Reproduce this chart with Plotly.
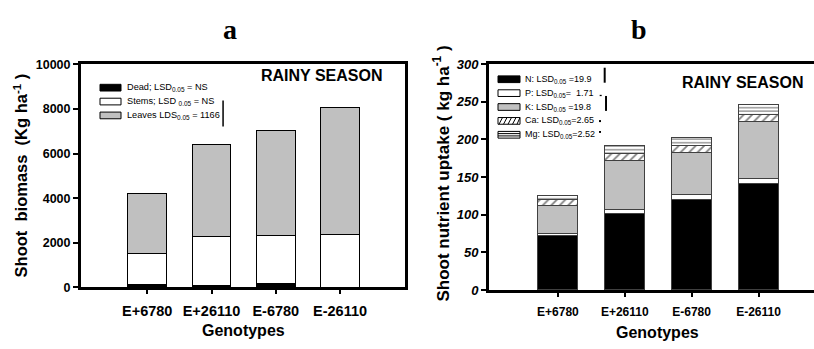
import plotly.graph_objects as go

W, H = 814, 349

genotypes = ["E+6780", "E+26110", "E-6780", "E-26110"]

# (a) shoot biomass components, kg/ha
dead = [120, 75, 160, 15]
stems = [1400, 2190, 2180, 2350]
leaves = [2700, 4155, 4680, 5685]
labels_a = ["Dead; LSD<sub>0.05</sub> = NS",
            "Stems; LSD <sub>0.05</sub> = NS",
            "Leaves LDS<sub>0.05</sub> = 1166"]
lsd_leaves = 1166
ticks_a = [0, 2000, 4000, 6000, 8000, 10000]

# (b) shoot nutrient uptake, kg/ha
n_up = [72, 101, 120, 141]
p_up = [3.5, 6, 6.5, 6.5]
k_up = [37, 65, 56.5, 76]
ca_up = [7, 8.5, 8.5, 10]
mg_up = [6, 11, 10.5, 12.5]
labels_b = ["N: LSD<sub>0.05</sub> =19.9",
            "P: LSD<sub>0.05</sub>=\u00a0 1.71",
            "K: LSD<sub>0.05</sub> =19.8",
            "Ca: LSD<sub>0.05</sub>=2.65",
            "Mg: LSD<sub>0.05</sub>=2.52"]
lsd_b = [19.9, 1.71, 19.8, 2.65, 2.52]
ticks_b = [0, 50, 100, 150, 200, 250, 300]

SANS = "Liberation Sans, Arial, sans-serif"
SERIF = "Liberation Serif, Times New Roman, serif"
GRAY = "#c0c0c0"


def fx(px):
    return px / W


def fy(py):
    return 1 - py / H


fig = go.Figure()

bar_w = 0.6
# panel a: stacked biomass
for vals, col in [(dead, "black"), (stems, "white"), (leaves, GRAY)]:
    fig.add_trace(go.Bar(x=genotypes, y=vals, width=bar_w, xaxis="x", yaxis="y",
                         marker=dict(color=col, line=dict(color="black", width=1)),
                         showlegend=False))

# panel b: stacked nutrient uptake
b_series = [
    (n_up, dict(color="black")),
    (p_up, dict(color="white")),
    (k_up, dict(color=GRAY)),
    (ca_up, dict(color="white", pattern=dict(shape="/", fgcolor="black", bgcolor="white",
                                              size=6, solidity=0.3))),
    (mg_up, dict(color="white", pattern=dict(shape="-", fgcolor="black", bgcolor="white",
                                              size=3.5, solidity=0.35))),
]
for vals, mk in b_series:
    mk["line"] = dict(color="#404040", width=1)
    fig.add_trace(go.Bar(x=genotypes, y=vals, width=bar_w, xaxis="x2", yaxis="y2",
                         marker=mk, showlegend=False))

axis_common = dict(showline=True, linecolor="black", linewidth=3, showgrid=False,
                   zeroline=False, ticks="outside", tickcolor="black", tickwidth=2)

fig.update_layout(
    width=W, height=H, margin=dict(l=0, r=0, t=0, b=0),
    paper_bgcolor="white", plot_bgcolor="white",
    barmode="stack",
    xaxis=dict(axis_common, domain=[fx(81), fx(405)], anchor="y", mirror=True,
               range=[-1.03, 4.01], ticklen=4, ticklabelstandoff=4,
               tickfont=dict(family=SANS, size=14.5, weight="bold", color="black")),
    yaxis=dict(axis_common, domain=[fy(293), fy(60)], anchor="x", mirror=True,
               range=[0, 10000], tickvals=ticks_a, ticktext=[str(t) for t in ticks_a],
               ticklen=5,
               tickfont=dict(family=SANS, size=12.5, weight="bold", color="black")),
    xaxis2=dict(axis_common, domain=[fx(489), 1.0], anchor="y2", mirror=True,
                range=[-1.03, 3.83], ticklen=4, ticklabelstandoff=5,
                tickfont=dict(family=SANS, size=12, weight="bold", color="black")),
    yaxis2=dict(axis_common, domain=[fy(295.7), fy(59.5)], anchor="x2", mirror=False,
                range=[0, 300], tickvals=ticks_b, ticktext=[str(t) for t in ticks_b],
                ticklen=5,
                tickfont=dict(family=SANS, size=13, weight="bold", style="italic",
                              color="black")),
)

shapes = []
annotations = []

# panel titles
for txt, cx in [("a", 230), ("b", 639)]:
    annotations.append(dict(text="<b>%s</b>" % txt, x=fx(cx), y=fy(24), xref="paper",
                            yref="paper", showarrow=False, xanchor="center",
                            yanchor="middle",
                            font=dict(family=SERIF, size=28, color="black")))

# season labels
for cx, cy in [(322, 72), (743, 79)]:
    annotations.append(dict(text="RAINY SEASON", x=fx(cx), y=fy(cy), xref="paper",
                            yref="paper", showarrow=False, xanchor="center",
                            yanchor="middle",
                            font=dict(family=SANS, size=16, weight="bold", color="black")))

# axis titles
annotations.append(dict(text="Shoot\u00a0 biomass\u00a0 (Kg ha<sup>-1</sup> )", x=fx(21),
                        y=fy(176), xref="paper", yref="paper", showarrow=False,
                        textangle=-90, xanchor="center", yanchor="middle",
                        font=dict(family=SANS, size=16.5, weight="bold", color="black")))
annotations.append(dict(text="Shoot nutrient uptake ( kg ha<sup>-1</sup> )", x=fx(441),
                        y=fy(174), xref="paper", yref="paper", showarrow=False,
                        textangle=-90, xanchor="center", yanchor="middle",
                        font=dict(family=SANS, size=17, weight="bold", color="black")))
for cx, cy in [(244, 338), (657, 340)]:
    annotations.append(dict(text="Genotypes", x=fx(cx), y=fy(cy), xref="paper",
                            yref="paper", showarrow=False, xanchor="center",
                            yanchor="middle",
                            font=dict(family=SANS, size=16, weight="bold", color="black")))


def legend_box(x0, x1, yc, fill, line_col="black", h=7):
    shapes.append(dict(type="rect", xref="paper", yref="paper",
                       x0=fx(x0), x1=fx(x1), y0=fy(yc + h / 2), y1=fy(yc - h / 2),
                       fillcolor=fill, line=dict(color=line_col, width=1)))


def legend_text(x, yc, txt, size):
    annotations.append(dict(text=txt, x=fx(x), y=fy(yc), xref="paper", yref="paper",
                            showarrow=False, xanchor="left", yanchor="middle",
                            font=dict(family=SANS, size=size, color="black")))


# panel a legend
rows_a = [84.3, 98.8, 113.3]
fills_a = ["black", "white", GRAY]
for yc, fill, txt in zip(rows_a, fills_a, labels_a):
    legend_box(100, 121, yc, fill)
    legend_text(125, yc, txt, 9.2)

# LSD bar for leaves, drawn in data units
lsd_top_a = 8380
shapes.append(dict(type="line", xref="x", yref="y", x0=1.18, x1=1.18,
                   y0=lsd_top_a - lsd_leaves, y1=lsd_top_a,
                   line=dict(color="black", width=1.5)))

# panel b legend
rows_b = [75.5, 90.0, 104.5, 119.0, 133.5]
fills_b = ["black", "white", GRAY, "white", "white"]
for yc, fill, txt in zip(rows_b, fills_b, labels_b):
    legend_box(498, 520, yc, fill)
    legend_text(523, yc, txt, 9)

# hatch inside the Ca legend swatch
yc = rows_b[3]
for xs in [499, 503.5, 508, 512.5, 517]:
    x_end = min(xs + 3.5, 520)
    shapes.append(dict(type="line", xref="paper", yref="paper",
                       x0=fx(xs), y0=fy(yc + 3.5), x1=fx(x_end), y1=fy(yc - 3.5),
                       line=dict(color="black", width=1)))
# lines inside the Mg legend swatch
yc = rows_b[4]
for dy in (-1.2, 1.2):
    shapes.append(dict(type="line", xref="paper", yref="paper",
                       x0=fx(498), x1=fx(520), y0=fy(yc + dy), y1=fy(yc + dy),
                       line=dict(color="black", width=1)))

# LSD bars for panel b, drawn in data units
lsd_x = [0.70, 0.64, 0.72, 0.63, 0.63]
lsd_top_b = [295, 259, 257.5, 225.5, 211]
for xv, top, lsd in zip(lsd_x, lsd_top_b, lsd_b):
    shapes.append(dict(type="line", xref="x2", yref="y2", x0=xv, x1=xv,
                       y0=top - lsd, y1=top, line=dict(color="black", width=2)))

fig.update_layout(shapes=shapes, annotations=annotations)

fig.write_html("out.html")
